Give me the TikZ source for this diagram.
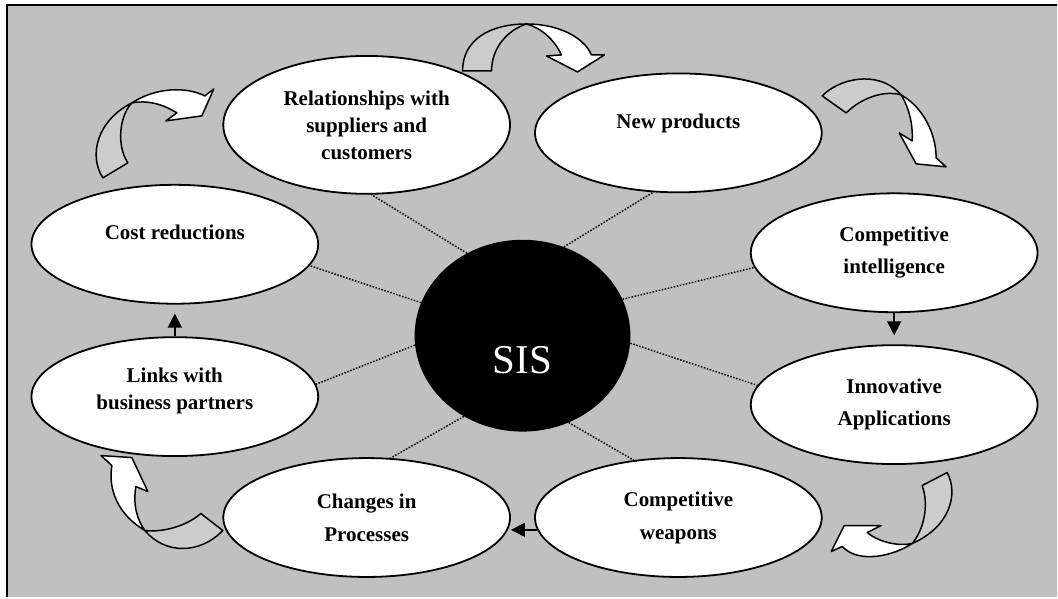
\documentclass[tikz,border=0pt]{standalone}
\usepackage{fontspec}
\setmainfont{Liberation Serif}
\usetikzlibrary{shapes.geometric,arrows.meta}
\definecolor{panel}{RGB}{192,192,192}
\definecolor{fold}{RGB}{204,204,204}

\begin{document}
\begin{tikzpicture}[x=1pt,y=-1pt,
    bubble/.style={ellipse,draw,line width=1.8pt,fill=white,minimum width=287pt,minimum height=119pt,inner sep=0pt,align=center,font=\fontsize{21}{27}\selectfont\bfseries},
    hub/.style={ellipse,fill=black,minimum width=216pt,minimum height=192pt,inner sep=0pt},
    spoke/.style={line width=1.5pt,dash pattern=on 1.5pt off 1.6pt},
    push/.style={line width=1.5pt,-{Triangle[length=14pt,width=14pt]}},
    back/.style={draw,line width=1.5pt,fill=fold,line join=round},
    front/.style={draw,line width=1.5pt,fill=white,line join=round}]
  \fill[white] (0,0) rectangle (1058,598);
  \fill[panel] (7,5) rectangle (1058,598);
  \draw[line width=2pt] (7,598) -- (7,5) -- (1058,5);

  \node[hub] (sis) at (523,336) {};
  \node[text=white,font=\fontsize{41}{41}\selectfont] (sistext) at (523,360) {SIS};

  \node[bubble,minimum height=138pt] (rel) at (367,125) {Relationships with\\suppliers and\\customers};
  \node[bubble,text depth=24pt] (np) at (679,133) {New products};
  \node[bubble] (ci) at (895,253) {Competitive\\[5pt]intelligence};
  \node[bubble] (ia) at (895,405) {Innovative\\[5pt]Applications};
  \node[bubble] (cw) at (679,518) {Competitive\\[6pt]weapons};
  \node[bubble] (chg) at (367,518) {Changes in\\[6pt]Processes};
  \node[bubble,text depth=16pt] (links) at (175,397) {Links with\\business partners};
  \node[bubble,text depth=24pt] (cost) at (175,244.5) {Cost reductions};

  \draw[spoke] (sis.124) -- (rel.-86);
  \draw[spoke] (sis.65) -- (np.247);
  \draw[spoke] (sis.20) -- (ci.186);
  \draw[spoke] (sis.-4) -- (ia.172);
  \draw[spoke] (sis.-62) -- (cw.128);
  \draw[spoke] (sis.234) -- (chg.68);
  \draw[spoke] (sis.185) -- (links.5);
  \draw[spoke] (sis.162) -- (cost.-9);

  \draw[push,shorten >=9pt] (links) -- (cost);
  \draw[push,shorten >=9pt] (ci) -- (ia);
  \draw[push] (cw.185) -- (cw.185 -| chg.east);

  \path[back] (463,71) .. controls (463,40) and (490,24) .. (527,24) .. controls (508,30) and (492,48) .. (492,71) -- cycle;
  \path[front] (527,24) .. controls (560,24) and (585,38) .. (592,55) -- (605,55) -- (578,72) -- (547,56) -- (562,55) .. controls (555,40) and (542,28) .. (527,24) -- cycle;

  \path[back] (103,178) .. controls (88,155) and (98,120) .. (132,103) .. controls (120,115) and (116,145) .. (128,163) -- cycle;
  \path[front] (132,103) .. controls (155,88) and (185,86) .. (205,96) -- (214,89) -- (202,116) -- (166,121) -- (177,113) .. controls (163,104) and (147,100) .. (132,103) -- cycle;

  \path[back] (823,96) .. controls (838,80) and (878,68) .. (902,95) .. controls (885,90) and (862,98) .. (847,113) -- cycle;
  \path[front] (902,95) .. controls (925,108) and (937,135) .. (937,158) -- (947,167) -- (917,164) -- (900,133) -- (913,141) .. controls (914,125) and (910,108) .. (902,95) -- cycle;

  \path[back] (948,473) .. controls (960,495) and (950,528) .. (913,544) .. controls (925,530) and (930,505) .. (923,486) -- cycle;
  \path[front] (913,544) .. controls (895,556) and (860,565) .. (843,547) -- (832,552) -- (845,526) -- (882,526) -- (868,533) .. controls (880,543) and (900,547) .. (913,544) -- cycle;

  \path[back] (223,531) .. controls (200,555) and (165,555) .. (145,531) .. controls (160,533) and (185,528) .. (201,514) -- cycle;
  \path[front] (145,531) .. controls (118,515) and (108,490) .. (112,466) -- (101,456) -- (132,458) -- (148,492) -- (136,487) .. controls (133,505) and (137,520) .. (145,531) -- cycle;
\end{tikzpicture}
\end{document}
